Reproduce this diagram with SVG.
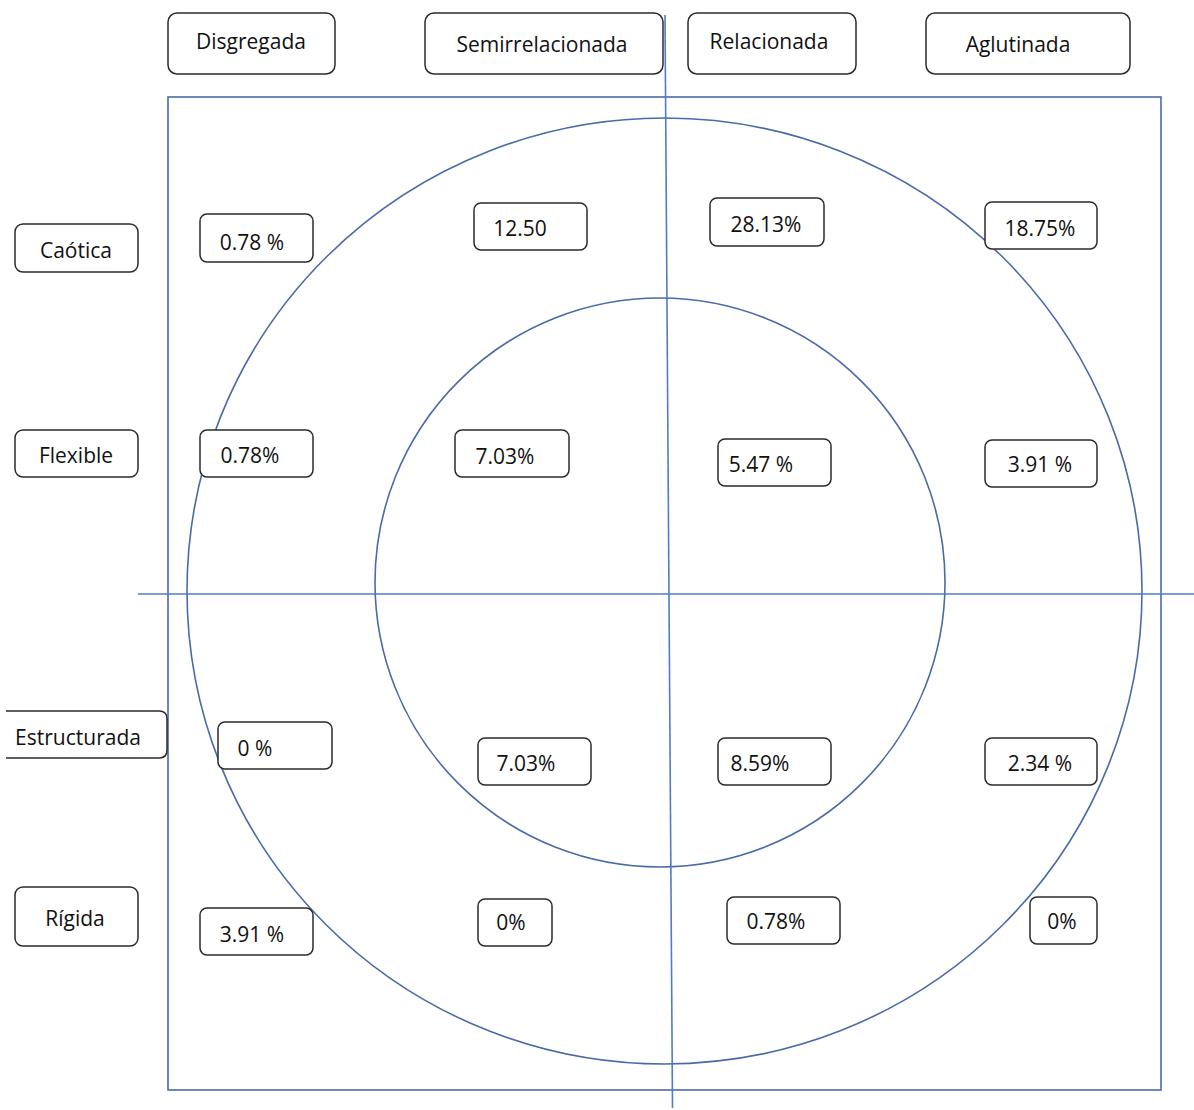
<svg xmlns="http://www.w3.org/2000/svg" width="1194" height="1110" viewBox="0 0 1194 1110">
<style>
.box{fill:#fff;stroke:#2b2b2b;stroke-width:1.5}
.t{font-family:"Open Sans","Liberation Sans",sans-serif;font-size:21px;fill:#111;text-anchor:middle;dominant-baseline:central}
.ln{fill:none;stroke:#4a6aa8;stroke-width:1.6}
.ax{fill:none;stroke:#4f7bc8;stroke-width:1.6}
</style>
<rect width="1194" height="1110" fill="#fff"/>
<g id="chart">
<rect class="ln" x="168" y="97" width="993" height="993"/>
<ellipse class="ln" cx="664.5" cy="591" rx="477.5" ry="473"/>
<ellipse class="ln" cx="660" cy="582.5" rx="285" ry="284.5"/>
</g>
<g id="connectors">
<line class="ax" x1="665" y1="15" x2="672.5" y2="1108"/>
<line class="ax" x1="138" y1="594" x2="1194" y2="594"/>
</g>
<g id="col-disgregada"><rect class="box" x="168" y="13" width="167" height="61" rx="9"/><text class="t" x="251" y="41">Disgregada</text></g>
<g id="col-semirrelacionada"><rect class="box" x="425" y="13" width="238" height="61" rx="9"/><text class="t" x="542" y="44">Semirrelacionada</text></g>
<g id="col-relacionada"><rect class="box" x="688" y="13" width="168" height="61" rx="9"/><text class="t" x="769" y="41">Relacionada</text></g>
<g id="col-aglutinada"><rect class="box" x="926" y="13" width="204" height="61" rx="9"/><text class="t" x="1018" y="44">Aglutinada</text></g>
<g id="row-caotica"><rect class="box" x="15" y="224" width="123" height="48" rx="8"/><text class="t" x="76" y="250">Caótica</text></g>
<g id="row-flexible"><rect class="box" x="15" y="430" width="123" height="47" rx="8"/><text class="t" x="76" y="455">Flexible</text></g>
<g id="row-estructurada"><path class="box" d="M6,711 H159 Q167,711 167,719 V750 Q167,758 159,758 H6"/><text class="t" x="78" y="737">Estructurada</text></g>
<g id="row-rigida"><rect class="box" x="15" y="887" width="123" height="59" rx="8"/><text class="t" x="75" y="918">Rígida</text></g>
<g id="v1"><rect class="box" x="200" y="214" width="113" height="48" rx="7"/><text class="t" x="252" y="242">0.78 %</text></g>
<g id="v2"><rect class="box" x="474" y="203" width="113" height="47" rx="7"/><text class="t" x="520" y="228">12.50</text></g>
<g id="v3"><rect class="box" x="710" y="198" width="114" height="48" rx="7"/><text class="t" x="766" y="224">28.13%</text></g>
<g id="v4"><rect class="box" x="985" y="202" width="112" height="47" rx="7"/><text class="t" x="1040" y="228">18.75%</text></g>
<g id="v5"><rect class="box" x="200" y="430" width="113" height="47" rx="7"/><text class="t" x="250" y="455">0.78%</text></g>
<g id="v6"><rect class="box" x="455" y="430" width="114" height="47" rx="7"/><text class="t" x="505" y="456">7.03%</text></g>
<g id="v7"><rect class="box" x="718" y="439" width="113" height="47" rx="7"/><text class="t" x="761" y="464">5.47 %</text></g>
<g id="v8"><rect class="box" x="985" y="440" width="112" height="47" rx="7"/><text class="t" x="1040" y="464">3.91 %</text></g>
<g id="v9"><rect class="box" x="218" y="722" width="114" height="47" rx="7"/><text class="t" x="255" y="748">0 %</text></g>
<g id="v10"><rect class="box" x="478" y="738" width="113" height="47" rx="7"/><text class="t" x="526" y="763">7.03%</text></g>
<g id="v11"><rect class="box" x="718" y="738" width="113" height="47" rx="7"/><text class="t" x="760" y="763">8.59%</text></g>
<g id="v12"><rect class="box" x="985" y="738" width="112" height="47" rx="7"/><text class="t" x="1040" y="763">2.34 %</text></g>
<g id="v13"><rect class="box" x="200" y="908" width="113" height="47" rx="7"/><text class="t" x="252" y="934">3.91 %</text></g>
<g id="v14"><rect class="box" x="478" y="899" width="74" height="47" rx="7"/><text class="t" x="511" y="922">0%</text></g>
<g id="v15"><rect class="box" x="727" y="897" width="113" height="47" rx="7"/><text class="t" x="776" y="921">0.78%</text></g>
<g id="v16"><rect class="box" x="1030" y="897" width="67" height="47" rx="7"/><text class="t" x="1062" y="921">0%</text></g>
</svg>
